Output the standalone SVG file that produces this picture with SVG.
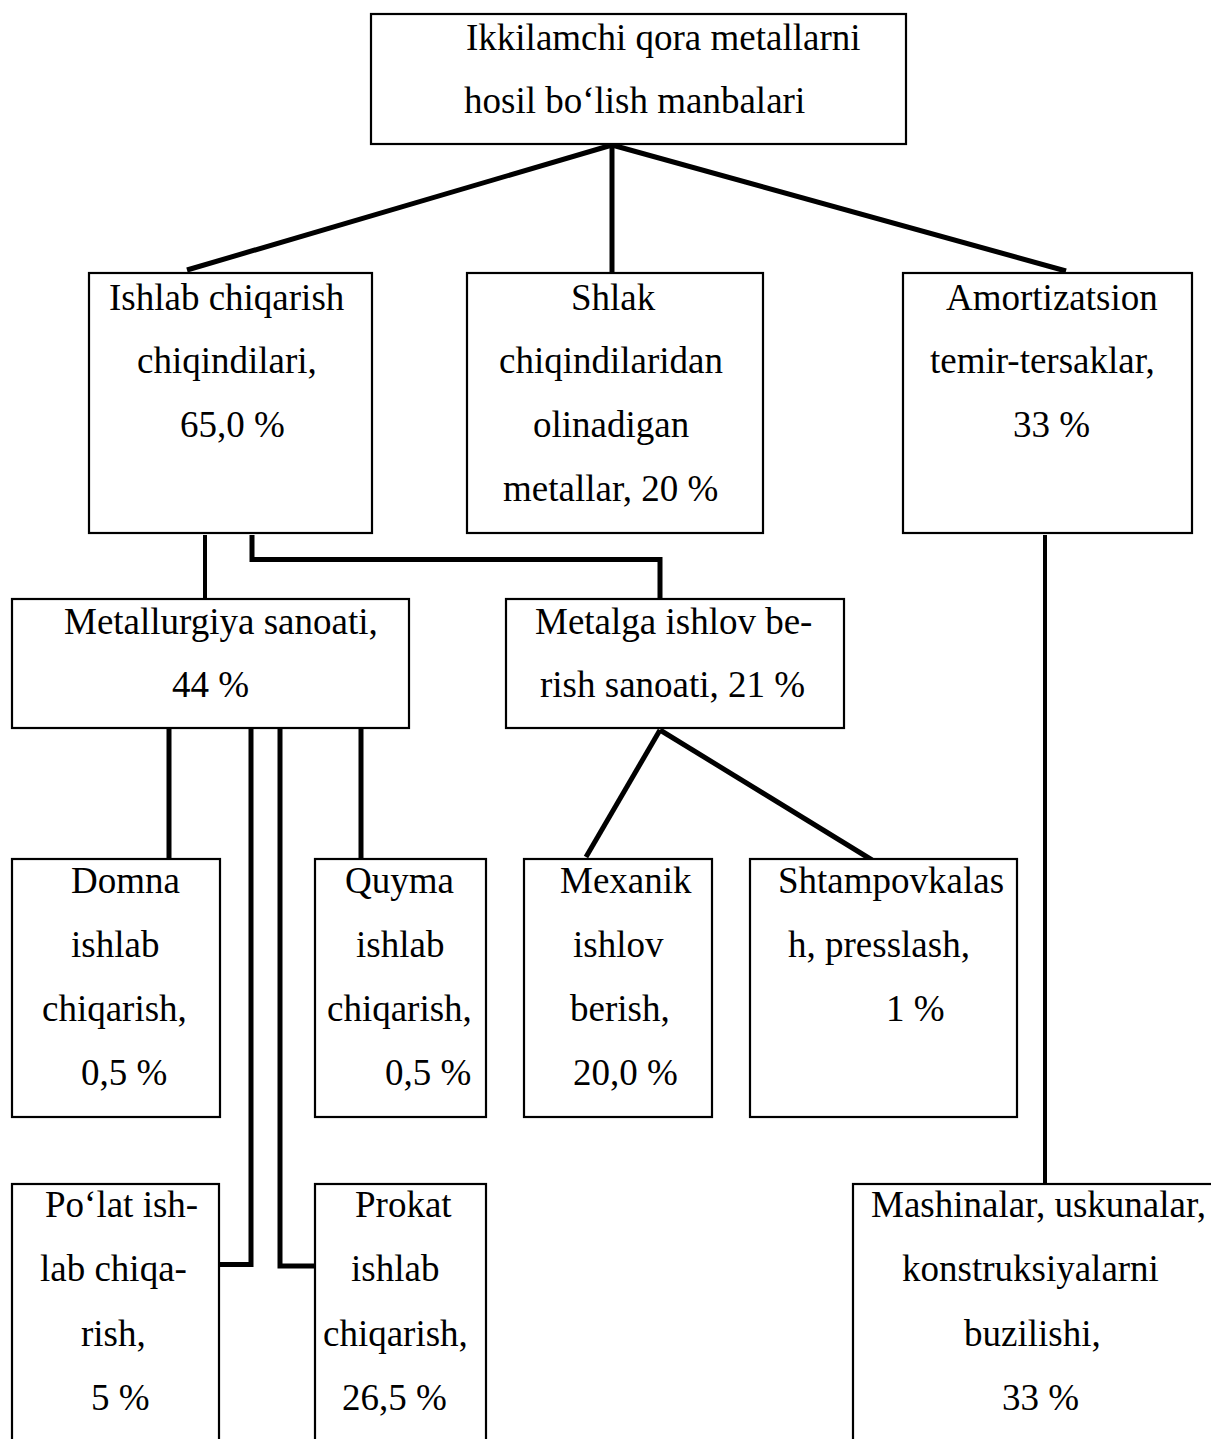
<svg xmlns="http://www.w3.org/2000/svg" width="1211" height="1439" viewBox="0 0 1211 1439">
<style>
.box{fill:#fff;stroke:#000;stroke-width:2.2}
text{font-family:"Liberation Serif","Times New Roman",serif;font-size:37px;fill:#000}
.c{fill:none;stroke:#000;stroke-width:5;stroke-linecap:butt;stroke-linejoin:miter}
.t4{stroke-width:4}
</style>
<rect width="1211" height="1439" fill="#fff"/>
<g id="connectors">
<line class="c" x1="612" y1="145" x2="187" y2="270"/>
<line class="c" x1="612" y1="145" x2="612" y2="272"/>
<line class="c" x1="612" y1="145" x2="1066" y2="271"/>
<line class="c t4" x1="205" y1="535" x2="205" y2="599"/>
<polyline class="c" points="252,535 252,559.5 660,559.5 660,599"/>
<line class="c t4" x1="1045" y1="535" x2="1045" y2="1184"/>
<line class="c" x1="169" y1="729" x2="169" y2="859"/>
<polyline class="c" points="251,729 251,1264.5 220,1264.5"/>
<polyline class="c" points="280,729 280,1266 315,1266"/>
<line class="c" x1="361" y1="729" x2="361" y2="859"/>
<line class="c" x1="660" y1="730" x2="586" y2="857"/>
<line class="c" x1="660" y1="730" x2="872" y2="860"/>
</g>
<g id="n-top">
<rect class="box" x="371" y="14" width="535" height="130"/>
<text x="466" y="50">Ikkilamchi qora metallarni</text>
<text x="464" y="113">hosil bo‘lish manbalari</text>
</g>
<g id="n-ishlab">
<rect class="box" x="89" y="273" width="283" height="260"/>
<text x="109" y="310">Ishlab chiqarish</text>
<text x="137" y="373">chiqindilari,</text>
<text x="180" y="437">65,0 %</text>
</g>
<g id="n-shlak">
<rect class="box" x="467" y="273" width="296" height="260"/>
<text x="571" y="310">Shlak</text>
<text x="499" y="373">chiqindilaridan</text>
<text x="533" y="437">olinadigan</text>
<text x="503" y="501">metallar, 20 %</text>
</g>
<g id="n-amort">
<rect class="box" x="903" y="273" width="289" height="260"/>
<text x="946" y="310">Amortizatsion</text>
<text x="930" y="373">temir-tersaklar,</text>
<text x="1013" y="437">33 %</text>
</g>
<g id="n-metallurgiya">
<rect class="box" x="12" y="599" width="397" height="129"/>
<text x="64" y="634">Metallurgiya sanoati,</text>
<text x="172" y="697">44 %</text>
</g>
<g id="n-metalga">
<rect class="box" x="506" y="599" width="338" height="129"/>
<text x="535" y="634">Metalga ishlov be-</text>
<text x="540" y="697">rish sanoati, 21 %</text>
</g>
<g id="n-domna">
<rect class="box" x="12" y="859" width="208" height="258"/>
<text x="71" y="893">Domna</text>
<text x="71" y="957">ishlab</text>
<text x="42" y="1021">chiqarish,</text>
<text x="81" y="1085">0,5 %</text>
</g>
<g id="n-quyma">
<rect class="box" x="315" y="859" width="171" height="258"/>
<text x="345" y="893">Quyma</text>
<text x="356" y="957">ishlab</text>
<text x="327" y="1021">chiqarish,</text>
<text x="385" y="1085">0,5 %</text>
</g>
<g id="n-mexanik">
<rect class="box" x="524" y="859" width="188" height="258"/>
<text x="560" y="893">Mexanik</text>
<text x="573" y="957">ishlov</text>
<text x="570" y="1021">berish,</text>
<text x="573" y="1085">20,0 %</text>
</g>
<g id="n-shtamp">
<rect class="box" x="750" y="859" width="267" height="258"/>
<text x="778" y="893">Shtampovkalas</text>
<text x="788" y="957">h, presslash,</text>
<text x="886" y="1021">1 %</text>
</g>
<g id="n-polat">
<rect class="box" x="12" y="1184" width="207" height="270"/>
<text x="45" y="1217">Po‘lat ish-</text>
<text x="40" y="1281">lab chiqa-</text>
<text x="81" y="1346">rish,</text>
<text x="91" y="1410">5 %</text>
</g>
<g id="n-prokat">
<rect class="box" x="315" y="1184" width="171" height="270"/>
<text x="355" y="1217">Prokat</text>
<text x="351" y="1281">ishlab</text>
<text x="323" y="1346">chiqarish,</text>
<text x="342" y="1410">26,5 %</text>
</g>
<g id="n-mashinalar">
<rect class="box" x="853" y="1184" width="380" height="270"/>
<text x="871" y="1217">Mashinalar, uskunalar,</text>
<text x="902" y="1281">konstruksiyalarni</text>
<text x="964" y="1346">buzilishi,</text>
<text x="1002" y="1410">33 %</text>
</g>
</svg>
